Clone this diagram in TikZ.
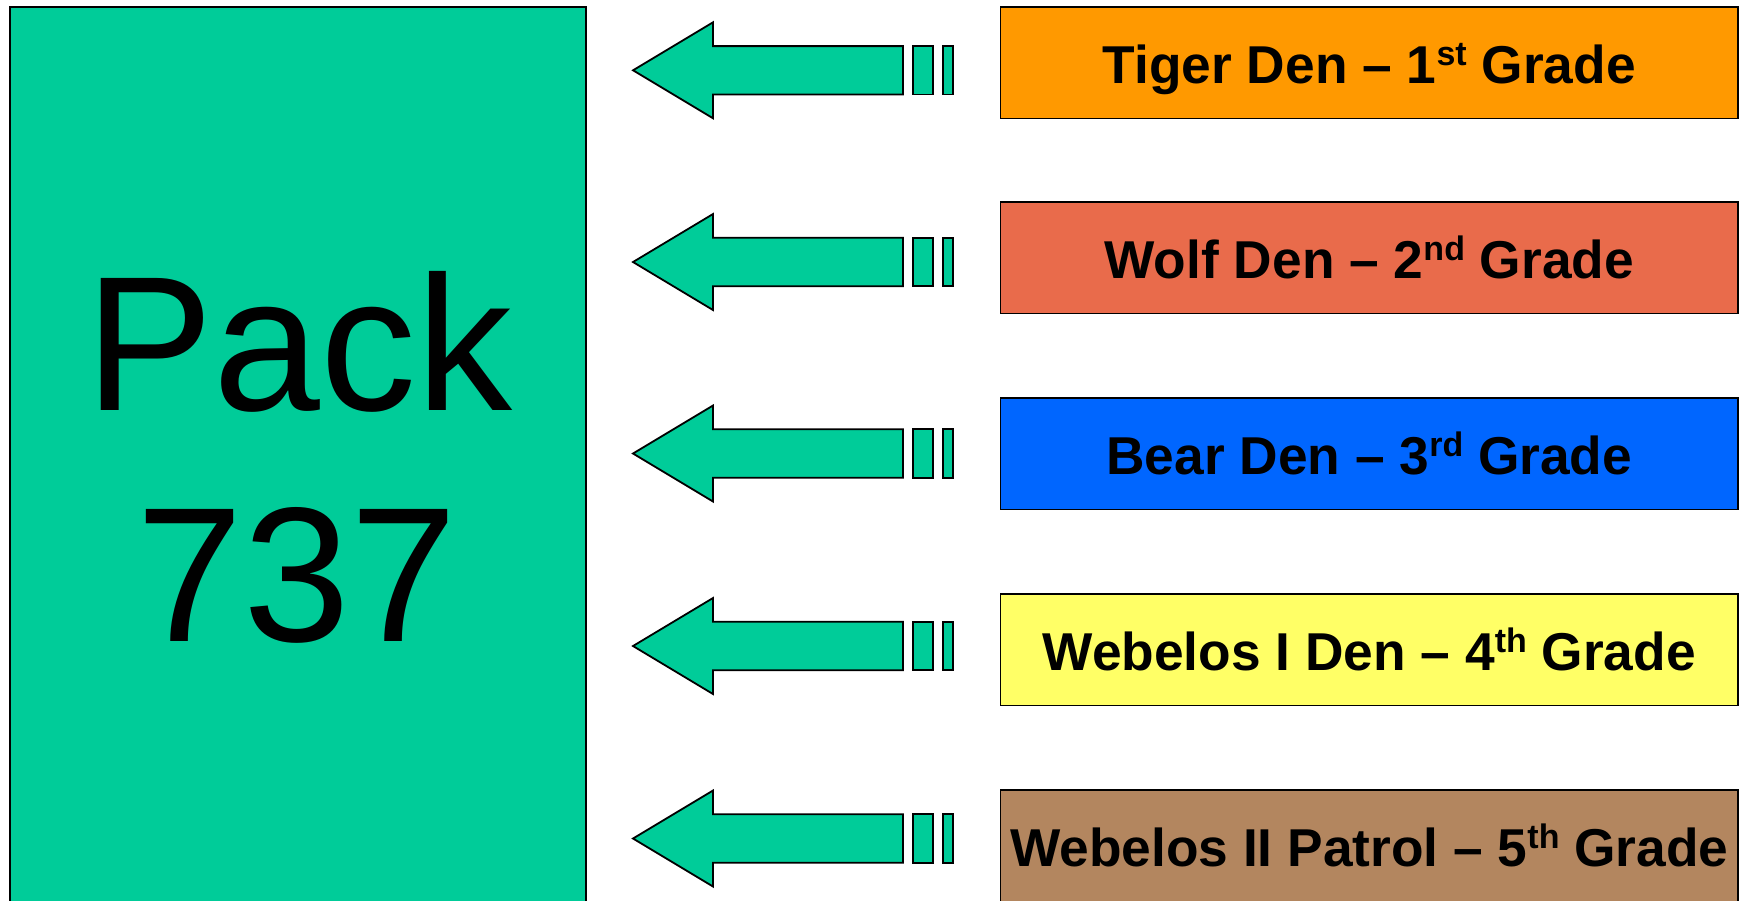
\documentclass[tikz,border=0pt]{standalone}
\usepackage{fontspec}
\setmainfont{Liberation Sans}
\definecolor{packgreen}{HTML}{00CC99}
\definecolor{tigerc}{HTML}{FF9900}
\definecolor{wolfc}{HTML}{E96B4B}
\definecolor{bearc}{HTML}{0066FF}
\definecolor{webonec}{HTML}{FFFF66}
\definecolor{webtwoc}{HTML}{B3865F}
\newcommand\myup[1]{\raisebox{18pt}{\fontsize{34}{34}\selectfont #1}}
\begin{document}
\begin{tikzpicture}[x=1pt,y=-1pt,
  outl/.style={draw=black, line width=1.8pt, line join=miter},
  denbox/.style={outl, rectangle, minimum width=737.5pt, minimum height=111.5pt,
     inner sep=0pt, text height=41.5pt, text depth=0pt,
     font=\bfseries\fontsize{53.3}{60}\selectfont},
  packtext/.style={anchor=base, inner sep=0pt, font=\fontsize{192}{230}\selectfont},
  blockarrow/.style={outl, fill=packgreen}
]
\useasboundingbox (0,0) rectangle (1746,900);
\fill[white] (0,0) rectangle (1746,900);

% Pack box
\node (pack) [outl, fill=packgreen, rectangle, anchor=north west, inner sep=0pt,
   minimum width=576pt, minimum height=910pt] at (9,6) {};
\node (packA) [packtext] at (299,410.7) {Pack};
\node (packB) [packtext] at (297,641) {737};

% Den boxes
\node (tiger) [denbox, fill=tigerc]   at (1369.25,62.75)  {Tiger Den -- 1\myup{st} Grade};
\node (wolf)  [denbox, fill=wolfc]    at (1369.25,257.75) {Wolf Den -- 2\myup{nd} Grade};
\node (bear)  [denbox, fill=bearc]    at (1369.25,453.75) {Bear Den -- 3\myup{rd} Grade};
\node (webone)[denbox, fill=webonec]  at (1369.25,649.75) {Webelos I Den -- 4\myup{th} Grade};
\node (webtwo)[denbox, fill=webtwoc]  at (1369.25,845.75) {Webelos II Patrol -- 5\myup{th} Grade};

% Block arrows
\foreach \n/\cy in {1/70.3, 2/262, 3/453.5, 4/646, 5/838.5}{
  \coordinate (tip\n) at (633,\cy);
  \draw[blockarrow] (tip\n) -- ++(80,-48) -- ++(0,23.8) -- ++(190,0) -- ++(0,48.4)
     -- ++(-190,0) -- ++(0,23.8) -- cycle;
  \draw[blockarrow] ([shift={(280,-24.2)}]tip\n) rectangle ([shift={(300,24.2)}]tip\n);
  \draw[blockarrow] ([shift={(310,-24.2)}]tip\n) rectangle ([shift={(320,24.2)}]tip\n);
}
\end{tikzpicture}
\end{document}
